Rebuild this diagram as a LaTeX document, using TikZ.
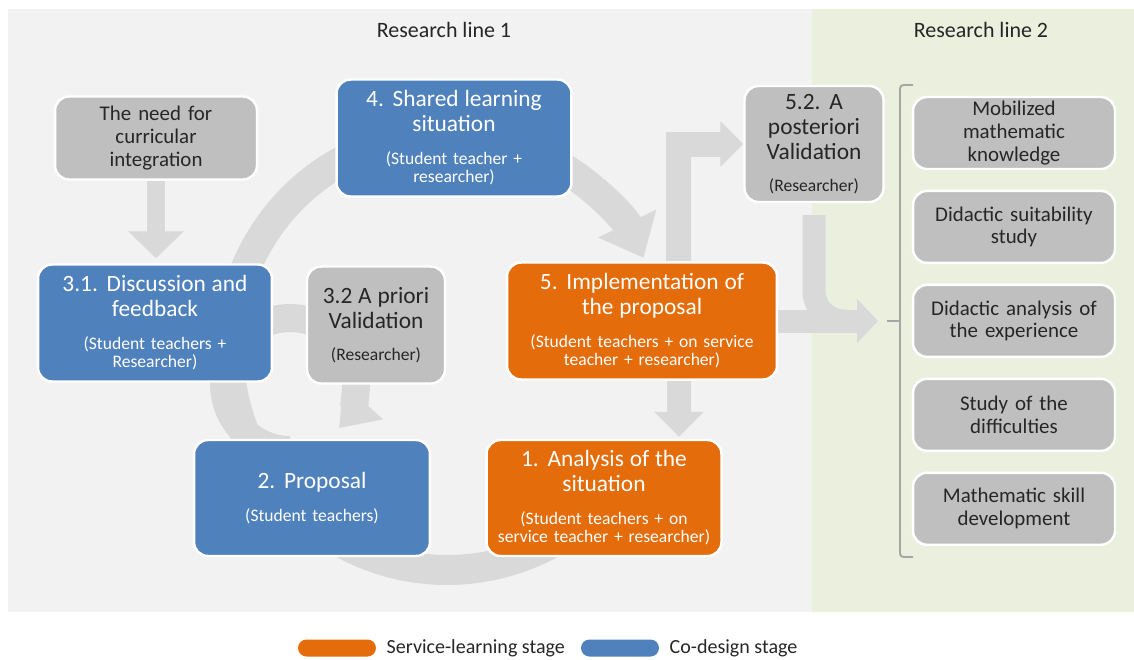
\documentclass[tikz,border=0pt]{standalone}
\usepackage{fontspec}
\setmainfont{Carlito}
\usetikzlibrary{positioning,arrows.meta,backgrounds}
\definecolor{codesign}{RGB}{79,129,189}
\definecolor{servlearn}{RGB}{228,108,10}
\definecolor{boxgray}{RGB}{191,191,191}
\definecolor{bandgray}{RGB}{217,217,217}
\definecolor{lineonebg}{RGB}{242,242,242}
\definecolor{linetwobg}{RGB}{235,240,222}
\definecolor{brackgray}{RGB}{166,166,166}
\definecolor{textdark}{RGB}{38,38,38}
\newcommand{\boxhead}{\fontsize{13.3}{14.2}\selectfont}
\newcommand{\boxsub}{\fontsize{10}{10.3}\selectfont}
\newcommand{\boxtxt}{\fontsize{11.9}{13}\selectfont}
\newcommand{\linetitle}{\fontsize{12.5}{14}\selectfont}
\newcommand{\keytxt}{\fontsize{11.4}{13}\selectfont}

\begin{document}
\begin{tikzpicture}[x=0.02cm, y=-0.02cm,
  box/.style={draw=white, line width=1.4pt, rounded corners=0.28cm,
              align=center, inner sep=0pt},
  cdbox/.style={box, fill=codesign, text=white},
  slbox/.style={box, fill=servlearn, text=white},
  valbox/.style={box, fill=boxgray, text=textdark},
  outbox/.style={valbox, minimum width=4.04cm, minimum height=1.44cm,
                 text width=3.84cm, font=\boxtxt},
  flow/.style={draw=bandgray, line width=0.6cm},
  brk/.style={draw=brackgray, line width=1.1pt},
  lbl/.style={text=textdark, inner sep=0pt},
  key/.style={minimum width=1.56cm, minimum height=0.34cm,
              rounded corners=0.17cm, inner sep=0pt}
]
\useasboundingbox (0,0) rectangle (1134,660);

\node[lbl, font=\linetitle] (rl1) at (444,30) {Research line 1};
\node[lbl, font=\linetitle] (rl2) at (981,30) {Research line 2};

% research line 1
\node[valbox, minimum width=4.04cm, minimum height=1.66cm, text width=3.84cm, font=\boxtxt] (need) at (156,138)
  {The need for\\curricular\\integration};
\node[cdbox, minimum width=4.7cm, minimum height=2.34cm, text width=4.5cm] (share) at (454,138)
  {{\boxhead 4. Shared learning\\situation\par}\vspace{8.5pt}{\boxsub (Student teacher +\\researcher)\par}};
\node[valbox, minimum width=2.78cm, minimum height=2.32cm, text width=2.6cm] (post) at (814,144)
  {{\boxhead 5.2. A\\posteriori\\Validation\par}\vspace{8pt}{\boxsub (Researcher)\par}};
\node[cdbox, minimum width=4.68cm, minimum height=2.34cm, text width=4.5cm] (disc) at (155,323)
  {{\boxhead 3.1. Discussion and\\feedback\par}\vspace{8.5pt}{\boxsub (Student teachers +\\Researcher)\par}};
\node[valbox, minimum width=2.76cm, minimum height=2.34cm, text width=2.6cm] (prior) at (376,325)
  {{\boxhead 3.2 A priori\\Validation\par}\vspace{8pt}{\boxsub (Researcher)\par}};
\node[slbox, minimum width=5.4cm, minimum height=2.34cm, text width=5.2cm] (impl) at (642,321)
  {{\boxhead 5. Implementation of\\the proposal\par}\vspace{8.5pt}{\boxsub (Student teachers + on service\\teacher + researcher)\par}};
\node[cdbox, minimum width=4.72cm, minimum height=2.32cm, text width=4.5cm] (prop) at (312,498)
  {{\boxhead 2. Proposal\par}\vspace{8.5pt}{\boxsub (Student teachers)\par}};
\node[slbox, minimum width=4.7cm, minimum height=2.32cm, text width=4.5cm] (anal) at (604,498)
  {{\boxhead 1. Analysis of the\\situation\par}\vspace{8.5pt}{\boxsub (Student teachers + on\\service teacher + researcher)\par}};

% research line 2
\node[outbox] (out1) at (1014,133) {Mobilized\\mathematic\\knowledge};
\node[outbox, below=0.39cm of out1] (out2) {Didactic suitability\\study};
\node[outbox, below=0.39cm of out2] (out3) {Didactic analysis of\\the experience};
\node[outbox, below=0.39cm of out3] (out4) {Study of the\\difficulties};
\node[outbox, below=0.39cm of out4] (out5) {Mathematic skill\\development};

\coordinate (bmid) at (887,321);
\coordinate (joinend) at (848,321);
\coordinate (implout) at ([xshift=0.74cm]impl.south);
\coordinate (implup) at ([xshift=0.74cm]impl.north);
\coordinate (cyclec) at (447,352);
\coordinate (loopc) at (290,384);
\draw[brk, rounded corners=2pt] (913,85) -- (900,85) -- (900,557) -- (913,557);
\draw[brk] (bmid) -- (900,321);

\begin{pgfonlayer}{background}
  \fill[lineonebg] (8,9) rectangle (812,612);
  \fill[linetwobg] (812,9) rectangle (1134,612);
  \draw[flow, -{Triangle[length=0.76cm,width=1.24cm]}]
    (cyclec) ++(-30:4.36cm) arc[start angle=-30, end angle=-334.4, radius=4.36cm];
  \draw[flow, line width=0.56cm, -{Triangle[length=0.72cm,width=1.02cm]}]
    (loopc) ++(-90:1.32cm) arc[start angle=-90, end angle=-402, radius=1.32cm];
  \draw[flow, line width=0.38cm, -{Triangle[length=0.54cm,width=1.08cm]}, shorten >=0.1cm]
    (need.south) -- (need.south |- disc.north);
  \draw[flow, line width=0.48cm, -{Triangle[length=0.5cm,width=0.96cm]}, shorten >=0.04cm]
    (implout) -- (implout |- anal.north);
  \draw[flow, line width=0.5cm, -{Triangle[length=0.46cm,width=0.9cm]}]
    (implup) |- (post.west);
  \draw[flow, line width=0.46cm, rounded corners=0.6cm, shorten <=0.24cm]
    (post.south) |- (joinend);
  \draw[flow, line width=0.46cm, -{Triangle[length=0.42cm,width=0.86cm]}, shorten >=0.18cm]
    (impl.east) -- (bmid);
\end{pgfonlayer}

% legend
\node[key, fill=servlearn] (keysl) at (337,648) {};
\node[lbl, font=\keytxt, right=0.2cm of keysl] (txtsl) {Service-learning stage};
\node[key, fill=codesign] (keycd) at (620,648) {};
\node[lbl, font=\keytxt, right=0.2cm of keycd] (txtcd) {Co-design stage};
\end{tikzpicture}
\end{document}
